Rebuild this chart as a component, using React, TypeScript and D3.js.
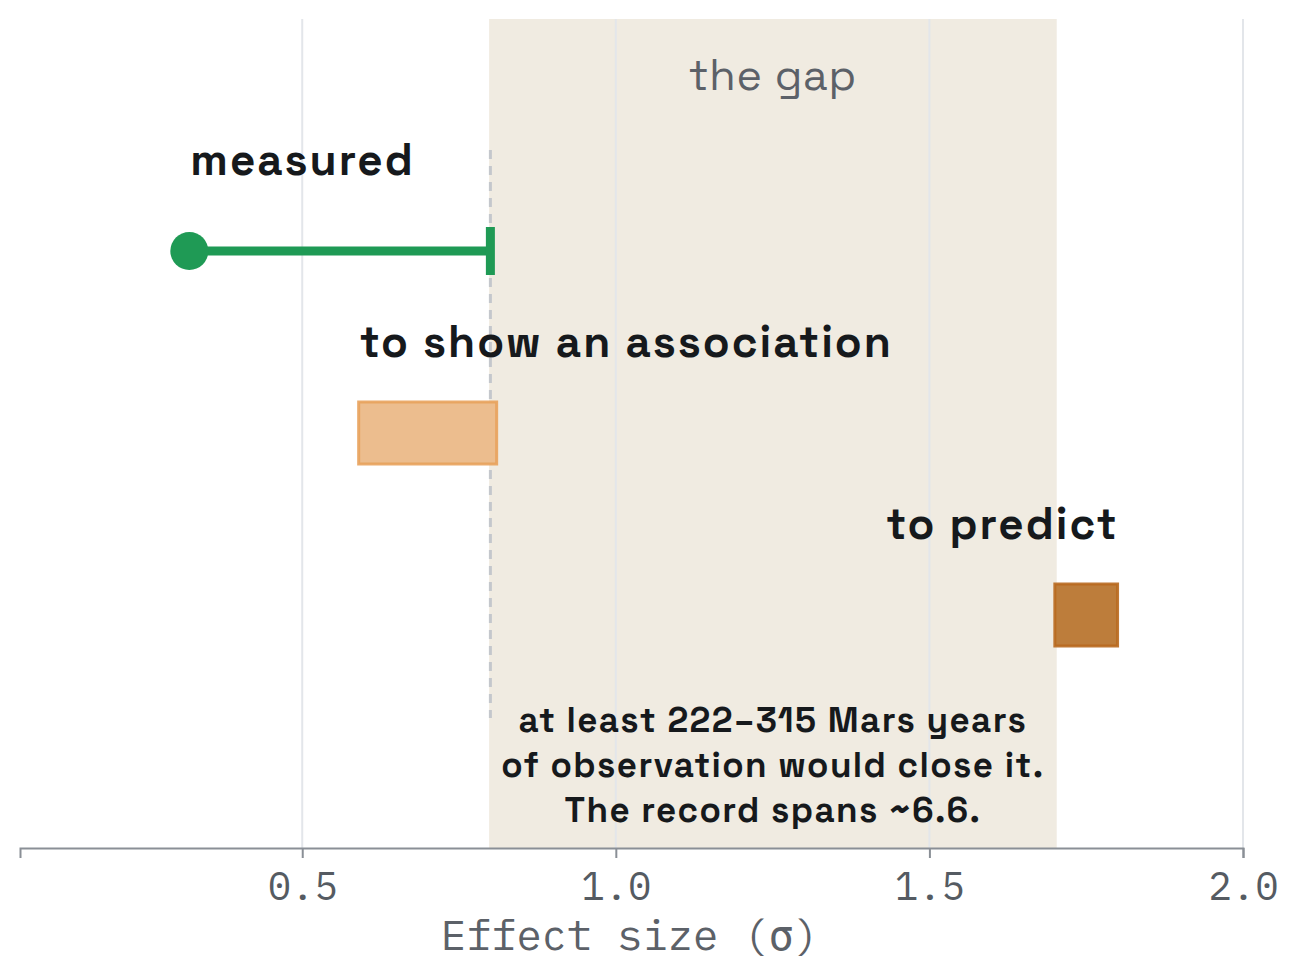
import { useEffect, useRef } from 'react';
import * as d3 from 'd3';

// rows of the chart, top to bottom
const rowKeys = ['measured', 'association', 'predict'];
const rowLabels = ['measured', 'to show an association', 'to predict'];
const rangeLo = [0.32, 0.59, 1.7];
const rangeHi = [0.8, 0.81, 1.8];

const gapRange = [0.798, 1.703];
const xDomain = [0.05, 2.0];
const xTicks = [0.5, 1.0, 1.5, 2.0];

const gapLabel = 'the gap';
const noteLines = [
  'at least 222–315 Mars years',
  'of observation would close it.',
  'The record spans ~6.6.',
];
const xTitle = 'Effect size (σ)';

const SANS = "'Space Grotesk', Inter, 'Noto Sans', sans-serif";
const MONO = "'IBM Plex Mono', 'DejaVu Sans Mono', monospace";

export default function App() {
  const svgRef = useRef<SVGSVGElement | null>(null);

  useEffect(() => {
    if (!svgRef.current) return;
    const svg = d3.select(svgRef.current);
    svg.selectAll('*').remove();

    const width = 1297;
    const height = 977;
    const margin = { top: 19, right: 54, bottom: 129, left: 20 };
    const plotBottom = height - margin.bottom;

    const x = d3
      .scaleLinear()
      .domain(xDomain)
      .range([margin.left, width - margin.right]);

    const y = d3
      .scalePoint()
      .domain(rowKeys)
      .range([margin.top + 232, margin.top + 596]);

    const gapMid = (x(gapRange[0]) + x(gapRange[1])) / 2;

    // gap band
    svg
      .append('rect')
      .attr('x', x(gapRange[0]))
      .attr('y', margin.top)
      .attr('width', x(gapRange[1]) - x(gapRange[0]))
      .attr('height', plotBottom - margin.top)
      .attr('fill', '#f0ebe1');

    // gridlines
    svg
      .append('g')
      .selectAll('line')
      .data(xTicks)
      .join('line')
      .attr('x1', (d) => x(d))
      .attr('x2', (d) => x(d))
      .attr('y1', margin.top)
      .attr('y2', plotBottom)
      .attr('stroke', '#e3e6ea')
      .attr('stroke-width', 2);

    svg
      .append('text')
      .attr('x', gapMid)
      .attr('y', 90)
      .attr('text-anchor', 'middle')
      .style('font-family', SANS)
      .style('font-size', '43px')
      .style('letter-spacing', '0.8px')
      .style('fill', '#5c6168')
      .text(gapLabel);

    // threshold dashed line
    svg
      .append('line')
      .attr('x1', x(rangeHi[0]))
      .attr('x2', x(rangeHi[0]))
      .attr('y1', 150)
      .attr('y2', 718)
      .attr('stroke', '#c4c7cc')
      .attr('stroke-width', 3)
      .attr('stroke-dasharray', '9,7');

    // measured: dot + line + cap
    const ym = y('measured')!;
    svg
      .append('line')
      .attr('x1', x(rangeLo[0]))
      .attr('x2', x(rangeHi[0]))
      .attr('y1', ym)
      .attr('y2', ym)
      .attr('stroke', '#1f9a55')
      .attr('stroke-width', 9);
    svg
      .append('rect')
      .attr('x', x(rangeHi[0]) - 4.5)
      .attr('y', ym - 24)
      .attr('width', 9)
      .attr('height', 48)
      .attr('fill', '#1f9a55');
    svg
      .append('circle')
      .attr('cx', x(rangeLo[0]))
      .attr('cy', ym)
      .attr('r', 19)
      .attr('fill', '#1f9a55');

    // boxes
    const boxFill = ['', '#ecbd8e', '#bd7d3b'];
    const boxStroke = ['', '#e8a25c', '#b8691f'];
    [1, 2].forEach((i) => {
      const yc = y(rowKeys[i])!;
      svg
        .append('rect')
        .attr('x', x(rangeLo[i]))
        .attr('y', yc - 31)
        .attr('width', x(rangeHi[i]) - x(rangeLo[i]))
        .attr('height', 62)
        .attr('fill', boxFill[i])
        .attr('stroke', boxStroke[i])
        .attr('stroke-opacity', 0.9)
        .attr('stroke-width', 3);
    });

    // row labels
    svg
      .append('g')
      .selectAll('text')
      .data(rowKeys)
      .join('text')
      .attr('x', (_, i) => (i === 2 ? x(rangeHi[i]) + 1 : x(rangeLo[i]) + 1))
      .attr('y', (d) => y(d)! - 76)
      .attr('text-anchor', (_, i) => (i === 2 ? 'end' : 'start'))
      .style('font-family', SANS)
      .style('font-weight', 700)
      .style('font-size', '44px')
      .style('letter-spacing', '2px')
      .style('fill', '#16191c')
      .text((_, i) => rowLabels[i]);

    // note
    svg
      .append('g')
      .selectAll('text')
      .data(noteLines)
      .join('text')
      .attr('x', gapMid)
      .attr('y', (_, i) => 732 + i * 45)
      .attr('text-anchor', 'middle')
      .style('font-family', SANS)
      .style('font-weight', 700)
      .style('font-size', '35px')
      .style('letter-spacing', '1.4px')
      .style('fill', '#16191c')
      .text((d) => d);

    // axis
    const axis = svg
      .append('g')
      .attr('transform', `translate(0,${plotBottom})`)
      .call(
        d3
          .axisBottom(x)
          .tickValues(xTicks)
          .tickFormat(d3.format('.1f'))
          .tickSize(10)
          .tickPadding(14)
      );
    axis.select('.domain').attr('stroke', '#8a8f96').attr('stroke-width', 2);
    axis.selectAll('.tick line').attr('stroke', '#8a8f96').attr('stroke-width', 2);
    axis
      .selectAll('text')
      .style('font-family', MONO)
      .style('font-size', '39px')
      .style('fill', '#555b62');

    svg
      .append('text')
      .attr('x', 630)
      .attr('y', 950)
      .attr('text-anchor', 'middle')
      .style('font-family', MONO)
      .style('font-size', '42px')
      .style('fill', '#5c6168')
      .text(xTitle);
  }, []);

  return (
    <svg
      ref={svgRef}
      width={1297}
      height={977}
      style={{ position: 'absolute', left: 0, top: 0, background: '#fff' }}
    />
  );
}
